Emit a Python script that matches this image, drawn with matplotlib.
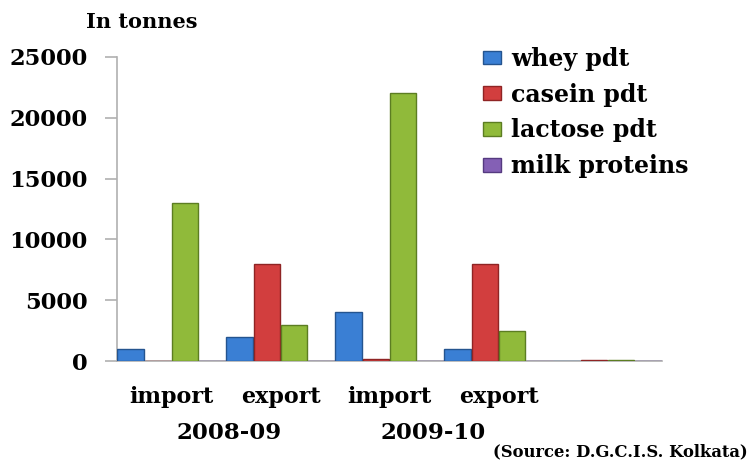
import matplotlib
matplotlib.use("Agg")
import matplotlib.pyplot as plt
import numpy as np

categories = ["import", "export", "import", "export", ""]
years = ["2008-09", "2009-10"]
series_names = ["whey pdt", "casein pdt", "lactose pdt", "milk proteins"]
whey = [1000, 2000, 4000, 1000, 0]
casein = [0, 8000, 150, 8000, 60]
lactose = [13000, 3000, 22000, 2500, 60]
milk_proteins = [0, 0, 0, 0, 0]
yticks = [0, 5000, 10000, 15000, 20000, 25000]

colors = ["#3a7fd4", "#d23e3e", "#90ba3a", "#8460b5"]
edges = ["#24548f", "#8f2424", "#5c7d22", "#553a80"]

FONT = "DejaVu Serif"
fig = plt.figure(figsize=(7.5, 4.61), dpi=100)
ax = fig.add_axes([117/750, 1-361/461, (662-117)/750, (361-57)/461])

x = np.arange(len(categories))
w = 0.25
data = [whey, casein, lactose, milk_proteins]
for i, (vals, name) in enumerate(zip(data, series_names)):
    ax.bar(x + (i - 1.5) * w, vals, width=w * 0.98, color=colors[i],
           edgecolor=edges[i], linewidth=1.0, label=name, zorder=3)

ax.set_xlim(-0.5, 4.5)
ax.set_ylim(0, 25000)
for s in ["top", "right"]:
    ax.spines[s].set_visible(False)
for s in ["left", "bottom"]:
    ax.spines[s].set_color("#b0b0b0")
    ax.spines[s].set_linewidth(1.2)
ax.set_yticks(yticks)
ax.set_yticklabels([str(v) for v in yticks], fontfamily=FONT, fontweight="bold", fontsize=16.3)
ax.tick_params(axis="y", length=9, color="#b0b0b0", width=1.2, pad=12)
ax.set_xticks(x[:4])
ax.set_xticklabels(categories[:4], fontfamily=FONT, fontweight="bold", fontsize=16)
ax.tick_params(axis="x", length=0, pad=18)

fig.text(142/750, 1-22/461, "In tonnes", fontfamily=FONT, fontweight="bold",
         fontsize=15, ha="center", va="center")
fig.text(229/750, 1-433/461, years[0], fontfamily=FONT, fontweight="bold",
         fontsize=16.5, ha="center", va="center")
fig.text(433/750, 1-433/461, years[1], fontfamily=FONT, fontweight="bold",
         fontsize=16.5, ha="center", va="center")
fig.text(748/750, 1-452/461, "(Source: D.G.C.I.S. Kolkata)", fontfamily=FONT,
         fontweight="bold", fontsize=11.8, ha="right", va="center")

leg = ax.legend(loc="upper left", bbox_to_anchor=(471/750, 1-35/461),
                bbox_transform=fig.transFigure, frameon=False,
                prop={"family": FONT, "weight": "bold", "size": 17},
                handlelength=0.75, handleheight=0.5, handletextpad=0.45,
                labelspacing=0.5, borderpad=0)

fig.savefig("out.png", dpi=100)
